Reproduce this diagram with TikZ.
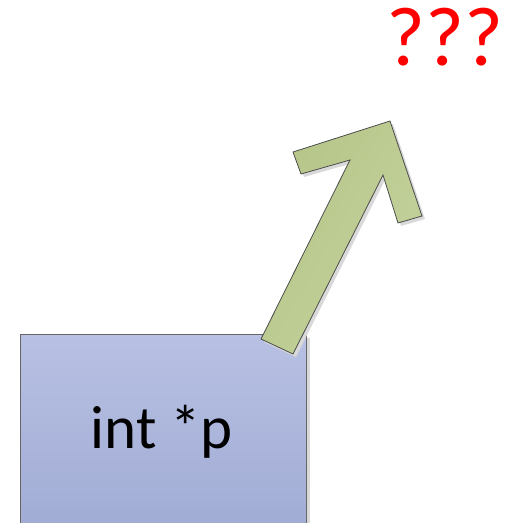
\documentclass[tikz,border=0pt]{standalone}
\usepackage{fontspec}
\setmainfont{Carlito}
\begin{document}
\begin{tikzpicture}[x=1pt,y=-1pt,
  boxstyle/.style={draw=black!60, line width=0.8pt, top color=boxtop, bottom color=boxbot},
  arrowstyle/.style={draw=black!70, line width=0.8pt, left color=arrleft, right color=arrright, shading angle=60},
  shadowstyle/.style={fill=black!15, draw=none}]
\definecolor{boxtop}{HTML}{B8C1E3}
\definecolor{boxbot}{HTML}{A1ACD5}
\definecolor{arrleft}{HTML}{B6C689}
\definecolor{arrright}{HTML}{C3D29C}
\useasboundingbox (0,0) rectangle (507,523);
% box shadow
\fill[shadowstyle] (24,338) rectangle (310,530);
% box
\path[boxstyle] (20,334) rectangle (306,530);
\node (box) at (163,430) {};
\node[font=\fontsize{61}{63}\selectfont, anchor=base] (lbl) at (162,448) {int *p};
% arrow shadow
\fill[shadowstyle, shift={(3,3)}] (261,339) -- (350,160) -- (301,174) -- (293,152) -- (390,121) -- (422,216) -- (398,223) -- (383,175) -- (293,354) -- cycle;
% arrow
\path[arrowstyle] (261,339) -- (350,160) -- (301,174) -- (293,152) -- (390,121) -- (422,216) -- (398,223) -- (383,175) -- (293,354) -- cycle;
\node[text=red, font=\fontsize{84}{86}\selectfont, anchor=base] (q) at (445,65) {???};
\end{tikzpicture}
\end{document}
